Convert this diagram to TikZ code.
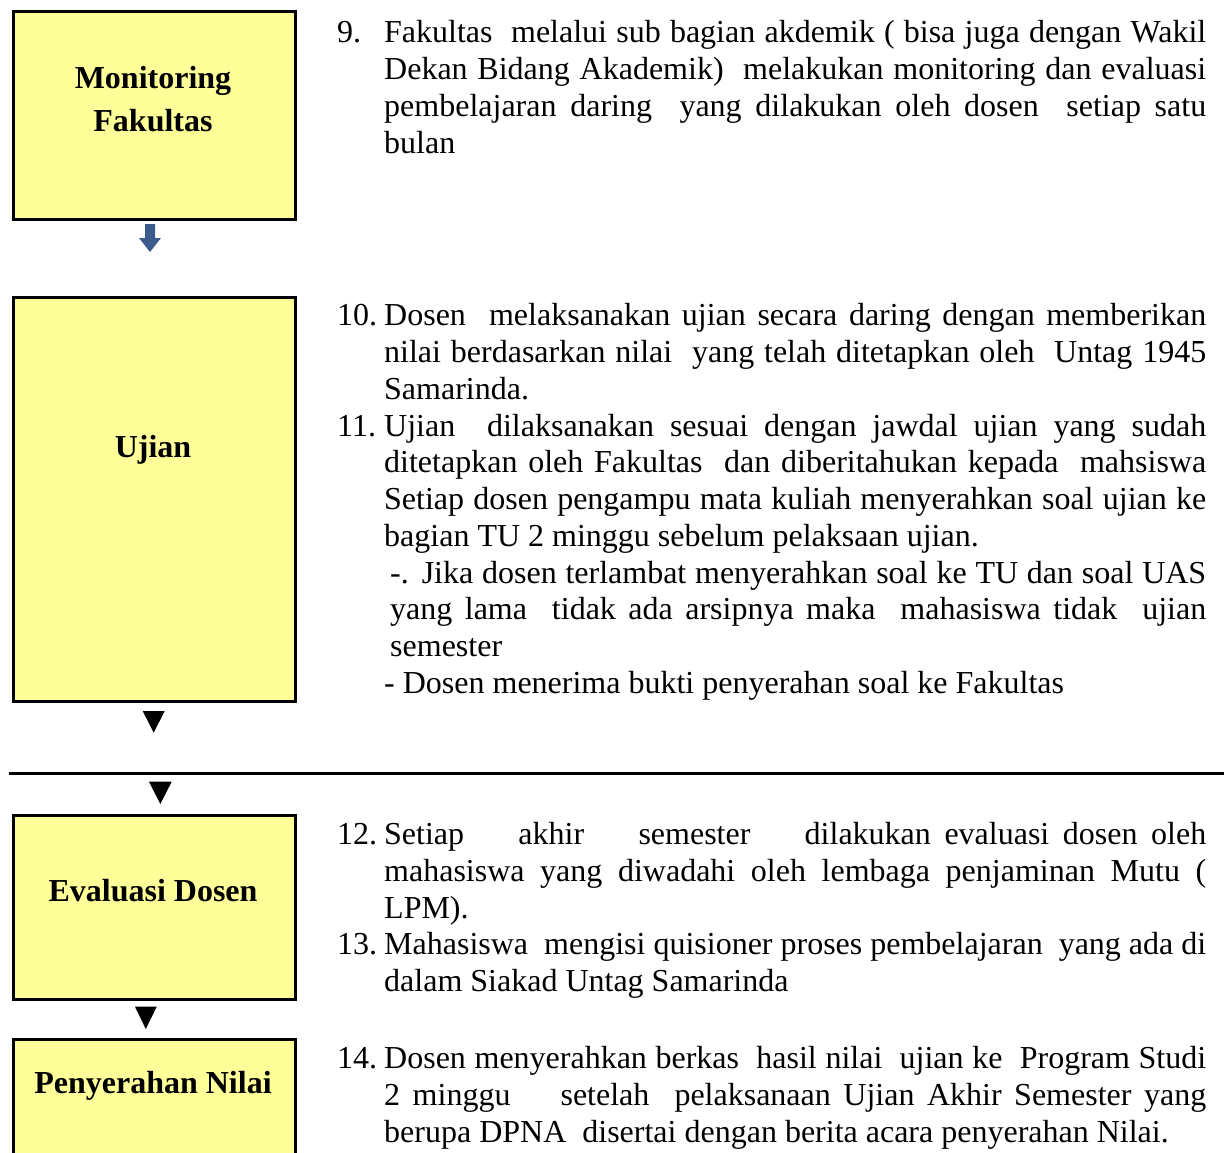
\documentclass[tikz,border=0pt]{standalone}
\usepackage{fontspec}
\setmainfont{Liberation Serif}
\definecolor{boxyellow}{HTML}{FFFF99}
\definecolor{arrowblue}{HTML}{3B5B8C}
\newcommand\J[1]{\makebox[822pt][s]{#1}}
\newcommand\JJ[1]{\makebox[816pt][s]{#1}}
\tikzset{
  box/.style={draw, line width=3pt, fill=boxyellow, inner sep=0pt, anchor=north west, minimum width=282pt},
  lbl/.style={font=\fontsize{32pt}{37pt}\selectfont\bfseries, inner sep=0pt, anchor=base},
  ln/.style={font=\fontsize{32pt}{37pt}\selectfont, inner sep=0pt, anchor=base west},
  tri/.style={fill=black},
}
\begin{document}
\begin{tikzpicture}[x=1pt,y=-1pt]
\useasboundingbox (0,0) rectangle (1224,1153);
\begin{scope}
\clip (0,0) rectangle (1224,1153);
% boxes
\node[box, minimum height=207.5pt] (b1) at (11.5,10.5) {};
\node[box, minimum height=404.5pt] (b2) at (11.5,295.5) {};
\node[box, minimum height=184pt] (b3) at (11.5,813.5) {};
\node[box, minimum height=140pt] (b4) at (11.5,1038) {};
\end{scope}
% box labels
\node[lbl] (l1a) at (153,89) {Monitoring};
\node[lbl] (l1b) at (153,132) {Fakultas};
\node[lbl] (l2) at (153,457) {Ujian};
\node[lbl] (l3) at (153,901) {Evaluasi Dosen};
\node[lbl] (l4) at (153,1093) {Penyerahan Nilai};
% connectors
\fill[arrowblue] (145,224) -- (155,224) -- (155,238) -- (161,238) -- (150,252) -- (139,238) -- (145,238) -- cycle;
\fill[tri] (142.7,711) -- (164.7,711) -- (153.7,732.7) -- cycle;
\draw[line width=3pt] (9,773.3) -- (1224,773.3);
\fill[tri] (149,781.7) -- (171.7,781.7) -- (160.3,804) -- cycle;
\fill[tri] (135,1006.7) -- (156.7,1006.7) -- (145.8,1029) -- cycle;
% item 9
\node[ln] (n9) at (337,42.5) {9.};
\node[ln] (t9a) at (384,42.5) {\J{Fakultas\ \ melalui sub bagian akdemik ( bisa juga dengan Wakil}};
\node[ln] (t9b) at (384,79.5) {\J{Dekan Bidang Akademik)\ \ melakukan monitoring dan evaluasi}};
\node[ln] (t9c) at (384,116.5) {\J{pembelajaran daring\ \ yang dilakukan oleh dosen\ \ setiap satu}};
\node[ln] (t9d) at (384,153.5) {bulan};
% item 10
\node[ln] (n10) at (337,325) {10.};
\node[ln] (t10a) at (384,325) {\J{Dosen\ \ melaksanakan ujian secara daring dengan memberikan}};
\node[ln] (t10b) at (384,362) {\J{nilai berdasarkan nilai\ \ yang telah ditetapkan oleh\ \ Untag 1945}};
\node[ln] (t10c) at (384,399) {Samarinda.};
% item 11
\node[ln] (n11) at (337,436) {11.};
\node[ln] (t11a) at (384,436) {\J{Ujian\ \ dilaksanakan sesuai dengan jawdal ujian yang sudah}};
\node[ln] (t11b) at (384,472.5) {\J{ditetapkan oleh Fakultas\ \ dan diberitahukan kepada\ \ mahsiswa}};
\node[ln] (t11c) at (384,509.5) {\J{Setiap dosen pengampu mata kuliah menyerahkan soal ujian ke}};
\node[ln] (t11d) at (384,546) {bagian TU 2 minggu sebelum pelaksaan ujian.};
\node[ln] (t11e) at (390,583) {\JJ{-. Jika dosen terlambat menyerahkan soal ke TU dan soal UAS}};
\node[ln] (t11f) at (390,619.5) {\JJ{yang lama\ \ tidak ada arsipnya maka\ \ mahasiswa tidak\ \ ujian}};
\node[ln] (t11g) at (390,656) {semester};
\node[ln] (t11h) at (384,693) {- Dosen menerima bukti penyerahan soal ke Fakultas};
% item 12
\node[ln] (n12) at (337,844) {12.};
\node[ln] (t12a) at (384,844) {\J{Setiap\ \ \ \ akhir\ \ \ \ semester\ \ \ \ dilakukan evaluasi dosen oleh}};
\node[ln] (t12b) at (384,881) {\J{mahasiswa yang diwadahi oleh lembaga penjaminan Mutu (}};
\node[ln] (t12c) at (384,918) {LPM).};
% item 13
\node[ln] (n13) at (337,954) {13.};
\node[ln] (t13a) at (384,954) {\J{Mahasiswa\ \ mengisi quisioner proses pembelajaran\ \ yang ada di}};
\node[ln] (t13b) at (384,991) {dalam Siakad Untag Samarinda};
% item 14
\node[ln] (n14) at (337,1068) {14.};
\node[ln] (t14a) at (384,1068) {\J{Dosen menyerahkan berkas\ \ hasil nilai\ \ ujian ke\ \ Program Studi}};
\node[ln] (t14b) at (384,1105) {\J{2 minggu\ \ \ \ setelah\ \ pelaksanaan Ujian Akhir Semester yang}};
\node[ln] (t14c) at (384,1142) {berupa DPNA\ \ disertai dengan berita acara penyerahan Nilai.};
\end{tikzpicture}
\end{document}
